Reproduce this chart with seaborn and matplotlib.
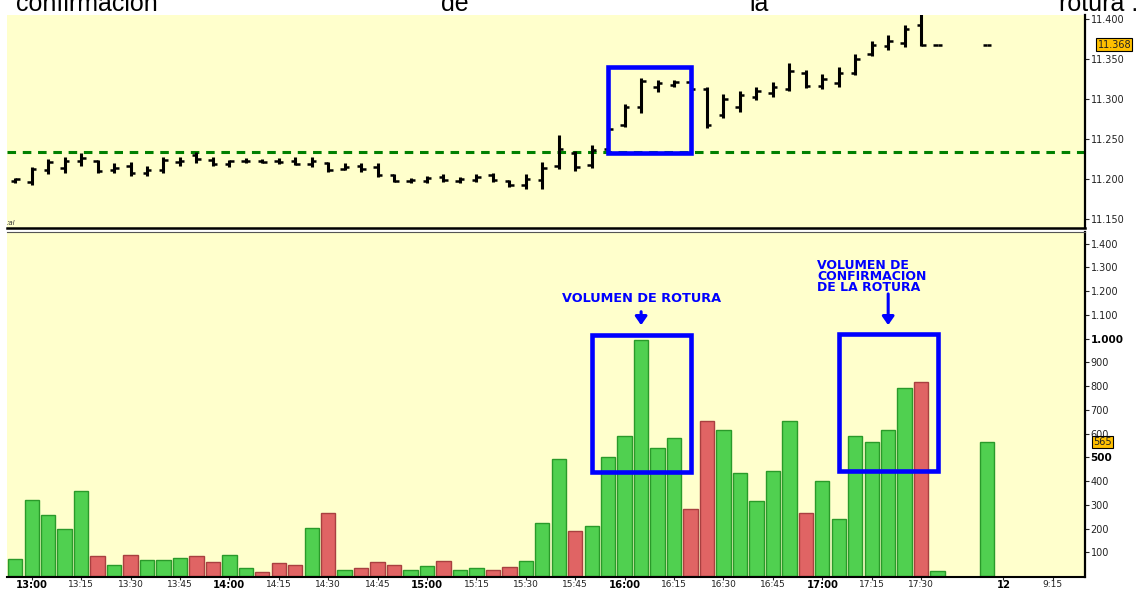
import numpy as np
import pandas as pd
import matplotlib
matplotlib.use("Agg")
import matplotlib.pyplot as plt
import seaborn as sns
from matplotlib.patches import Rectangle

# ---------------- data ----------------
slots = list(range(60))  # 5-minute slots starting 12:55
opens = [11.198, 11.196, 11.211, 11.214, 11.222, 11.223, 11.211, 11.216, 11.207, 11.211,
         11.221, 11.230, 11.224, 11.219, 11.222, 11.223, 11.223, 11.222, 11.219, 11.220,
         11.212, 11.216, 11.215, 11.205, 11.197, 11.198, 11.203, 11.198, 11.199, 11.205,
         11.197, 11.192, 11.199, 11.216, 11.232, 11.217, 11.238, 11.268, 11.290, 11.315,
         11.318, 11.321, 11.312, 11.280, 11.290, 11.303, 11.308, 11.312, 11.333, 11.316,
         11.320, 11.333, 11.356, 11.366, 11.370, 11.392, 11.368, np.nan, np.nan, 11.368]
highs = [11.2013, 11.2154, 11.2246, 11.227, 11.232, 11.224, 11.220, 11.221, 11.216, 11.2275,
         11.228, 11.234, 11.227, 11.224, 11.226, 11.2254, 11.2258, 11.227, 11.228, 11.2216,
         11.220, 11.220, 11.2196, 11.206, 11.2009, 11.2038, 11.206, 11.203, 11.206, 11.207,
         11.199, 11.206, 11.221, 11.255, 11.2354, 11.2425, 11.268, 11.2938, 11.3259, 11.3238,
         11.3238, 11.324, 11.3146, 11.3063, 11.3104, 11.3146, 11.3216, 11.3446, 11.3363, 11.3313,
         11.3396, 11.3563, 11.3729, 11.380, 11.3925, 11.410, 11.368, np.nan, np.nan, 11.368]
lows = [11.1950, 11.1925, 11.2063, 11.208, 11.216, 11.208, 11.2075, 11.204, 11.204, 11.208,
        11.216, 11.2196, 11.216, 11.2154, 11.220, 11.2196, 11.219, 11.2175, 11.2154, 11.209,
        11.211, 11.209, 11.203, 11.1963, 11.1954, 11.1954, 11.1966, 11.1946, 11.1966, 11.1966,
        11.190, 11.188, 11.188, 11.212, 11.2104, 11.2134, 11.236, 11.2654, 11.282, 11.309,
        11.3146, 11.310, 11.2634, 11.2759, 11.2841, 11.2988, 11.3029, 11.3104, 11.3134, 11.3121,
        11.3154, 11.330, 11.3538, 11.361, 11.3654, 11.366, 11.368, np.nan, np.nan, 11.368]
closes = [11.200, 11.212, 11.221, 11.222, 11.226, 11.210, 11.214, 11.207, 11.211, 11.224,
          11.223, 11.225, 11.219, 11.222, 11.223, 11.221, 11.221, 11.219, 11.223, 11.211,
          11.215, 11.212, 11.205, 11.198, 11.199, 11.201, 11.199, 11.200, 11.203, 11.199,
          11.192, 11.200, 11.214, 11.238, 11.215, 11.236, 11.263, 11.290, 11.322, 11.320,
          11.321, 11.313, 11.268, 11.300, 11.305, 11.310, 11.315, 11.335, 11.316, 11.325,
          11.332, 11.350, 11.368, 11.372, 11.388, 11.368, 11.368, np.nan, np.nan, 11.368]
volume = [72, 321, 256, 198, 360, 84, 45, 89, 68, 68,
          76, 84, 59, 89, 35, 18, 54, 46, 203, 264,
          27, 34, 59, 45, 25, 42, 62, 25, 34, 25,
          38, 63, 222, 494, 190, 211, 501, 591, 996, 539,
          581, 283, 655, 613, 436, 318, 444, 655, 266, 399,
          239, 591, 563, 613, 792, 819, 21, np.nan, np.nan, 565]
direction = ["up", "up", "up", "up", "up", "down", "up", "down", "up", "up",
             "up", "down", "down", "up", "up", "down", "down", "down", "up", "down",
             "up", "down", "down", "down", "up", "up", "down", "up", "up", "down",
             "down", "up", "up", "up", "down", "up", "up", "up", "up", "up",
             "up", "down", "down", "up", "up", "up", "up", "up", "down", "up",
             "up", "up", "up", "up", "up", "down", "up", None, None, "up"]

x_tick_pos = [1, 4, 7, 10, 13, 16, 19, 22, 25, 28, 31, 34, 37, 40, 43, 46, 49, 52, 55, 60, 63]
x_tick_labels = ["13:00", "13:15", "13:30", "13:45", "14:00", "14:15", "14:30", "14:45",
                 "15:00", "15:15", "15:30", "15:45", "16:00", "16:15", "16:30", "16:45",
                 "17:00", "17:15", "17:30", "12", "9:15"]
bold_x = ["13:00", "14:00", "15:00", "16:00", "17:00", "12"]
price_ticks = [11.150, 11.200, 11.250, 11.300, 11.350, 11.400]
vol_ticks = [100, 200, 300, 400, 500, 600, 700, 800, 900, 1000, 1100, 1200, 1300, 1400]
bold_vol = [500, 1000]
support_level = 11.234
last_price = 11.368
last_volume = 565
price_box = (36.0, 41.0, 11.2325, 11.3404)
vol_box1 = (35.0, 41.0, 437, 1017)
vol_box2 = (50.0, 56.0, 443, 1021)

# ---------------- style ----------------
sns.set_style("white")
plt.rcParams['font.family'] = ['DejaVu Sans']
BG = "#FFFFCC"
GREEN = "#50D050"
GREEN_E = "#2A9A2A"
RED = "#E06464"
RED_E = "#A84040"
BLUE = "#0000FF"

W, H = 1140, 590
fig = plt.figure(figsize=(W / 100, H / 100), dpi=100)
fig.patch.set_facecolor("white")

def box(l, t, r, b):
    return [l / W, 1 - b / H, (r - l) / W, (b - t) / H]

ax_p = fig.add_axes(box(7, 15, 1085, 228))
ax_v = fig.add_axes(box(7, 232, 1085, 577), sharex=ax_p)
for ax in (ax_p, ax_v):
    ax.set_facecolor(BG)
    ax.spines['left'].set_visible(False)
    ax.spines['right'].set_color('black')
    ax.spines['right'].set_linewidth(1.6)
    ax.spines['bottom'].set_color('black')
ax_p.spines['top'].set_visible(False)
ax_p.spines['bottom'].set_linewidth(1.8)
ax_v.spines['top'].set_color('#555555')
ax_v.spines['top'].set_linewidth(0.8)
ax_v.spines['bottom'].set_linewidth(1.5)

# ---------------- price (OHLC) ----------------
pdf = pd.DataFrame({"slot": slots, "open": opens, "high": highs, "low": lows, "close": closes}).dropna()
ax_p.vlines(pdf["slot"], pdf["low"], pdf["high"], color="black", lw=2.2, zorder=3)
ax_p.hlines(pdf["open"], pdf["slot"] - 0.27, pdf["slot"], color="black", lw=1.8, zorder=3)
ax_p.hlines(pdf["close"], pdf["slot"], pdf["slot"] + 0.27, color="black", lw=1.8, zorder=3)
ax_p.axhline(support_level, color="#008000", lw=2.2, dashes=(2.8, 2.2), zorder=2)
ax_p.add_patch(Rectangle((price_box[0], price_box[2]), price_box[1] - price_box[0],
                         price_box[3] - price_box[2], fill=False, ec=BLUE, lw=3.3, zorder=4))
ax_p.set_ylim(11.1389, 11.405)
ax_p.set_xlim(-0.5, 64.95)
ax_p.yaxis.tick_right()
ax_p.set_yticks(price_ticks)
ax_p.set_yticklabels([f"{t:.3f}" for t in price_ticks])
ax_p.tick_params(axis='y', direction='out', length=3, width=0.8, pad=1,
                 labelsize=7, labelcolor='#222222', right=True)
ax_p.tick_params(axis='x', bottom=False, labelbottom=False)
ax_p.annotate(f"{last_price:.3f}", xy=(1.0, last_price), xycoords=('axes fraction', 'data'),
              xytext=(9, 0), textcoords='offset points', va='center', ha='left', fontsize=7,
              color='#222222', bbox=dict(boxstyle='square,pad=0.12', fc='#FFC000', ec='black', lw=0.8),
              annotation_clip=False, zorder=6)
ax_p.text(-0.5, 11.141, ":al", fontsize=5, style='italic', color='#333333', va='bottom', ha='left')

# ---------------- volume ----------------
vdf = pd.DataFrame({"slot": slots, "volume": volume, "dir": direction}).dropna()
sns.barplot(data=vdf, x="slot", y="volume", hue="dir", palette={"up": GREEN, "down": RED},
            native_scale=True, dodge=False, width=0.87, saturation=1, legend=False,
            linewidth=1.0, ax=ax_v)
for p in ax_v.patches:
    fc = matplotlib.colors.to_hex(p.get_facecolor())
    p.set_edgecolor(GREEN_E if fc.lower() == GREEN.lower() else RED_E)
for (x0, x1, y0, y1) in (vol_box1, vol_box2):
    ax_v.add_patch(Rectangle((x0, y0), x1 - x0, y1 - y0, fill=False, ec=BLUE, lw=3.3, zorder=4))
ax_v.set_xlim(-0.5, 64.95)
ax_v.set_ylim(-4, 1449)
ax_v.set_xlabel("")
ax_v.set_ylabel("")
ax_v.yaxis.tick_right()
ax_v.set_yticks(vol_ticks)
ax_v.set_yticklabels([f"{t:,}".replace(",", ".") for t in vol_ticks])
ax_v.tick_params(axis='y', direction='out', length=3, width=0.8, pad=1,
                 labelsize=7, labelcolor='#222222', right=True, left=False)
for t, lab in zip(vol_ticks, ax_v.get_yticklabels()):
    if t in bold_vol:
        lab.set_fontweight('bold')
        lab.set_fontsize(7.5)
        lab.set_color('black')
ax_v.set_xticks(x_tick_pos)
ax_v.set_xticklabels(x_tick_labels)
ax_v.tick_params(axis='x', direction='out', length=2, width=0.8, pad=0,
                 labelsize=6.5, labelcolor='#222222', bottom=True)
for lab in ax_v.get_xticklabels():
    if lab.get_text() in bold_x:
        lab.set_fontweight('bold')
        lab.set_fontsize(7.2)
        lab.set_color('black')
ax_v.annotate(f"{last_volume}", xy=(1.0, last_volume), xycoords=('axes fraction', 'data'),
              xytext=(6, 0), textcoords='offset points', va='center', ha='left', fontsize=7,
              color='#222222', bbox=dict(boxstyle='square,pad=0.12', fc='#FFC000', ec='black', lw=0.8),
              annotation_clip=False, zorder=6)

# annotations
ax_v.text(38.0, 1171, "VOLUMEN DE ROTURA", color=BLUE, fontsize=9.3, fontweight='bold',
          ha='center', va='center', zorder=5)
ax_v.annotate("", xy=(38.0, 1045), xytext=(38.0, 1125),
              arrowprops=dict(arrowstyle='-|>,head_length=0.5,head_width=0.35', color=BLUE, lw=2.2))
ax_v.text(48.7, 1262, "VOLUMEN DE\nCONFIRMACION\nDE LA ROTURA", color=BLUE, fontsize=9.0,
          fontweight='bold', ha='left', va='center', linespacing=0.82, zorder=5)
ax_v.annotate("", xy=(53.0, 1045), xytext=(53.0, 1200),
              arrowprops=dict(arrowstyle='-|>,head_length=0.5,head_width=0.35', color=BLUE, lw=2.2))

# header text (cut at top)
ty = 1 - 11 / H
hdr = dict(fontsize=18, family=['Liberation Sans', 'DejaVu Sans'], color='black', va='baseline')
fig.text(16 / W, ty, "confirmación", ha='left', **hdr)
fig.text(455 / W, ty, "de", ha='center', **hdr)
fig.text(759 / W, ty, "la", ha='center', **hdr)
fig.text(1138 / W, ty, "rotura :", ha='right', **hdr)

fig.savefig("out.png", dpi=100, facecolor="white")
